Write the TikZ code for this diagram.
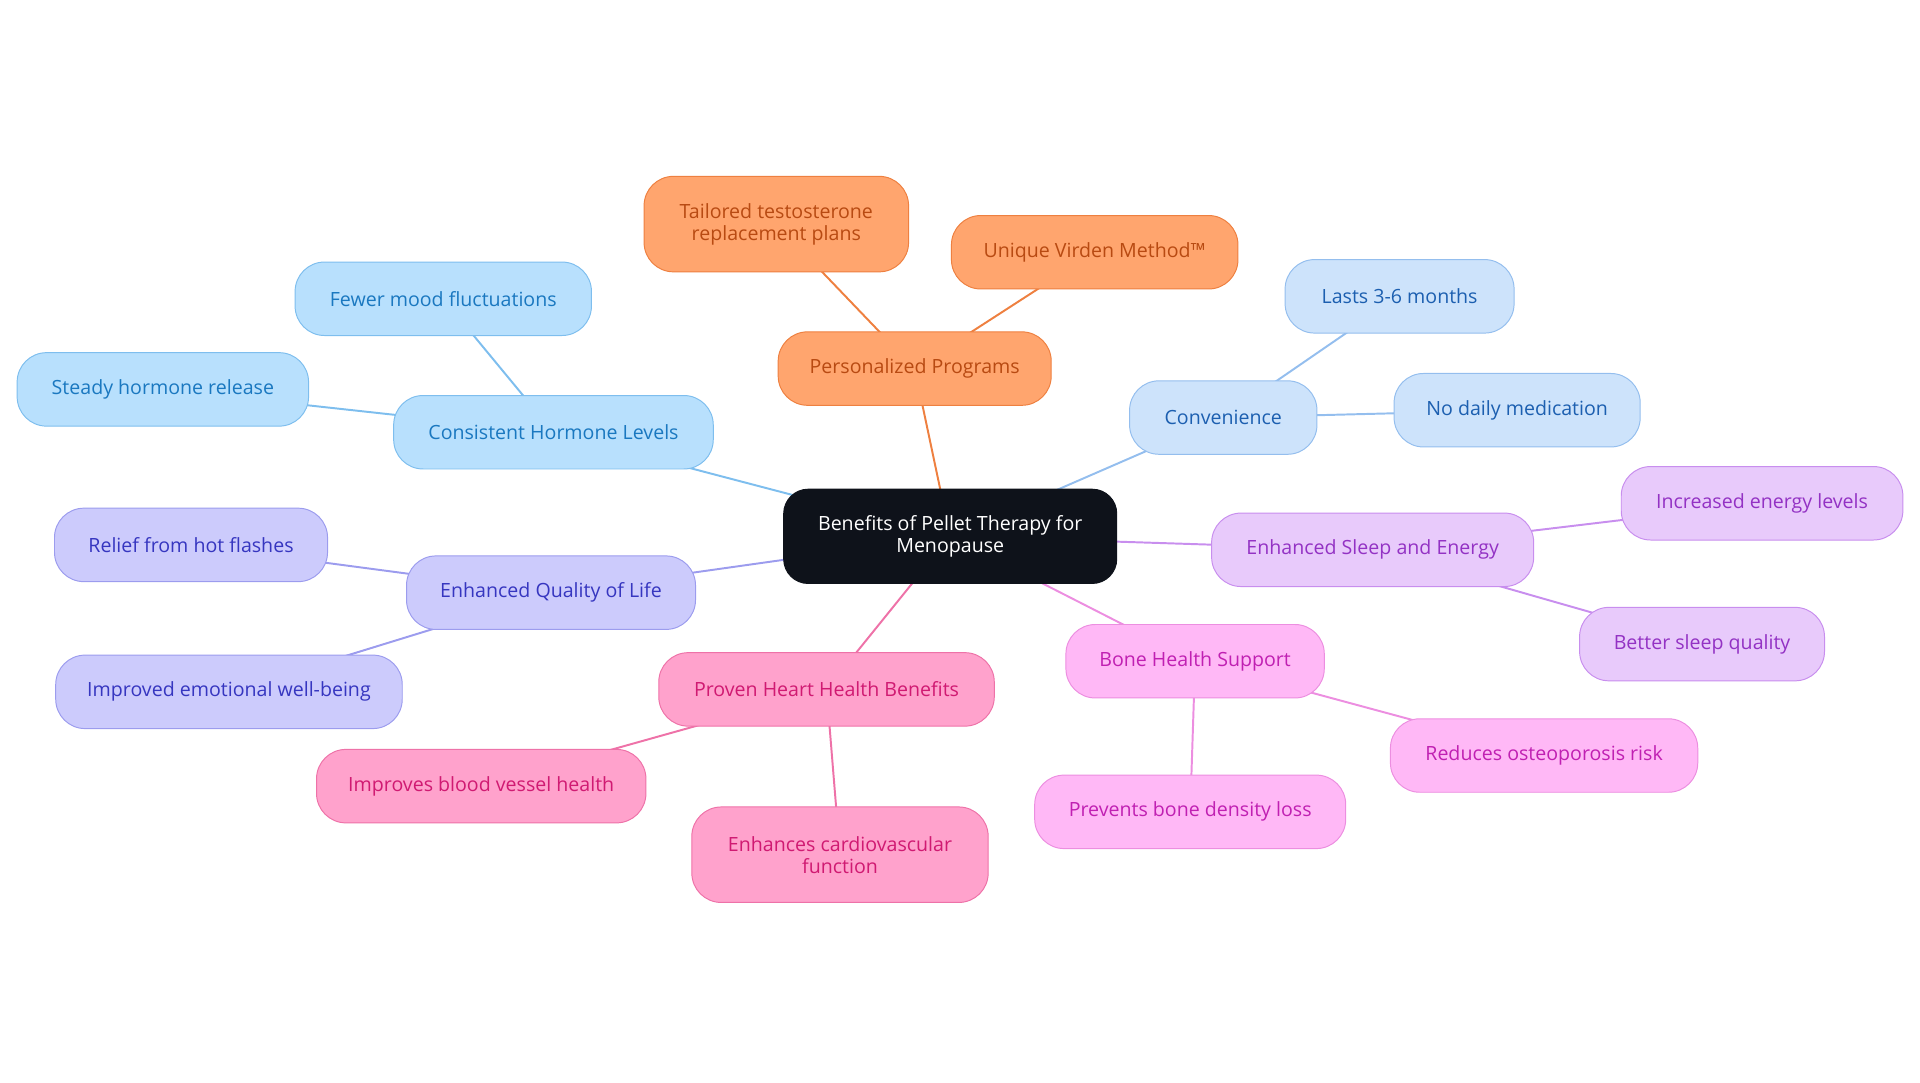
\documentclass[tikz,border=0pt]{standalone}
\usepackage{fontspec}
\setmainfont{Open Sans}
\usetikzlibrary{backgrounds}
\definecolor{oF}{HTML}{FFA56E}\definecolor{oD}{HTML}{EE8040}\definecolor{oT}{HTML}{B84A12}
\definecolor{bF}{HTML}{CDE3FB}\definecolor{bD}{HTML}{94BEEE}\definecolor{bT}{HTML}{1C5FB0}
\definecolor{pF}{HTML}{E8CAFB}\definecolor{pD}{HTML}{C88EEE}\definecolor{pT}{HTML}{9332C4}
\definecolor{mF}{HTML}{FFB8F6}\definecolor{mD}{HTML}{EC8EE0}\definecolor{mT}{HTML}{C020B2}
\definecolor{rF}{HTML}{FFA2CC}\definecolor{rD}{HTML}{EE72A8}\definecolor{rT}{HTML}{D01A72}
\definecolor{vF}{HTML}{CCCBFC}\definecolor{vD}{HTML}{9C9CEE}\definecolor{vT}{HTML}{3636C0}
\definecolor{cF}{HTML}{B8E0FD}\definecolor{cD}{HTML}{7EBEEE}\definecolor{cT}{HTML}{1A78C0}
\definecolor{ctr}{HTML}{0E121A}
\tikzset{
 box/.style={draw, line width=0.8pt, rounded corners=24pt, align=center, font=\fontsize{16}{18}\selectfont, inner sep=0pt, minimum height=60pt},
 ob/.style={box, fill=oF, draw=oD, text=oT}, bb/.style={box, fill=bF, draw=bD, text=bT},
 pb/.style={box, fill=pF, draw=pD, text=pT}, mb/.style={box, fill=mF, draw=mD, text=mT},
 rb/.style={box, fill=rF, draw=rD, text=rT}, vb/.style={box, fill=vF, draw=vD, text=vT},
 cb/.style={box, fill=cF, draw=cD, text=cT},
 ln/.style={line width=1.6pt}
}
\begin{document}
\begin{tikzpicture}[x=1pt,y=-1pt]
\useasboundingbox (0,0) rectangle (1568,884);
\node[box, fill=ctr, draw=ctr, text=white, rounded corners=20pt, minimum width=272pt, minimum height=77pt] (c) at (776,438) {Benefits of Pellet Therapy for\\Menopause};
\node[ob, minimum width=223pt] (p) at (747,301) {Personalized Programs};
\node[ob, minimum width=216pt, minimum height=78pt] (p1) at (634,183) {Tailored testosterone\\replacement plans};
\node[ob, minimum width=234pt] (p2) at (894,206) {Unique Virden Method™};
\node[bb, minimum width=153pt] (v) at (999,341) {Convenience};
\node[bb, minimum width=187pt] (v1) at (1143,242) {Lasts 3-6 months};
\node[bb, minimum width=201pt] (v2) at (1239,335) {No daily medication};
\node[pb, minimum width=263pt] (s) at (1121,449) {Enhanced Sleep and Energy};
\node[pb, minimum width=230pt] (s1) at (1439,411) {Increased energy levels};
\node[pb, minimum width=200pt] (s2) at (1390,526) {Better sleep quality};
\node[mb, minimum width=211pt] (b) at (976,540) {Bone Health Support};
\node[mb, minimum width=251pt] (b1) at (1261,617) {Reduces osteoporosis risk};
\node[mb, minimum width=254pt] (b2) at (972,663) {Prevents bone density loss};
\node[rb, minimum width=274pt] (h) at (675,563) {Proven Heart Health Benefits};
\node[rb, minimum width=269pt] (h1) at (393,642) {Improves blood vessel health};
\node[rb, minimum width=242pt, minimum height=78pt] (h2) at (686,698) {Enhances cardiovascular\\function};
\node[vb, minimum width=236pt] (q) at (450,484) {Enhanced Quality of Life};
\node[vb, minimum width=223pt] (q1) at (156,445) {Relief from hot flashes};
\node[vb, minimum width=283pt] (q2) at (187,565) {Improved emotional well-being};
\node[cb, minimum width=261pt] (k) at (452,353) {Consistent Hormone Levels};
\node[cb, minimum width=242pt] (k1) at (362,244) {Fewer mood fluctuations};
\node[cb, minimum width=238pt] (k2) at (133,318) {Steady hormone release};
\begin{scope}[on background layer]
\draw[ln, oD] (c.center) -- (p.center) (p.center) -- (p1.center) (p.center) -- (p2.center);
\draw[ln, bD] (c.center) -- (v.center) (v.center) -- (v1.center) (v.center) -- (v2.center);
\draw[ln, pD] (c.center) -- (s.center) (s.center) -- (s1.center) (s.center) -- (s2.center);
\draw[ln, mD] (c.center) -- (b.center) (b.center) -- (b1.center) (b.center) -- (b2.center);
\draw[ln, rD] (c.center) -- (h.center) (h.center) -- (h1.center) (h.center) -- (h2.center);
\draw[ln, vD] (c.center) -- (q.center) (q.center) -- (q1.center) (q.center) -- (q2.center);
\draw[ln, cD] (c.center) -- (k.center) (k.center) -- (k1.center) (k.center) -- (k2.center);
\end{scope}
\end{tikzpicture}
\end{document}
